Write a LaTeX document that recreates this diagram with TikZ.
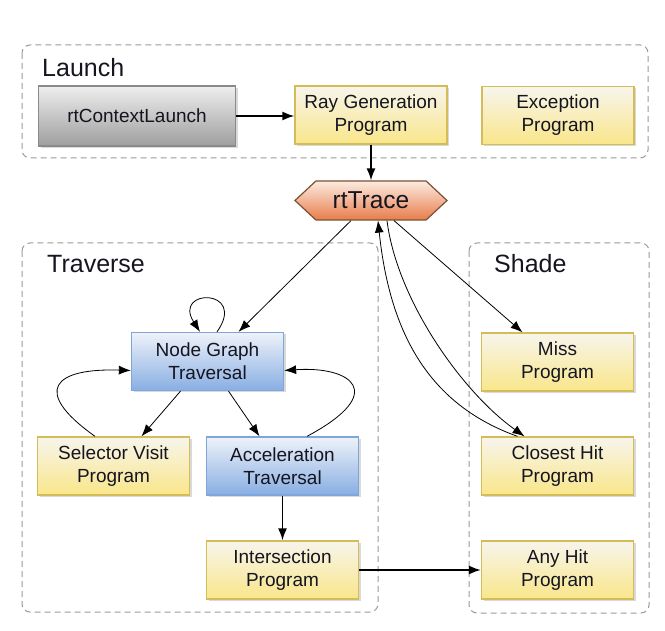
\documentclass[tikz,border=0pt]{standalone}
\usepackage{fontspec}
\setmainfont{Liberation Sans}
\usetikzlibrary{shapes.symbols,arrows.meta,shadows,calc}
\definecolor{yelTop}{HTML}{F7F5EC}
\definecolor{yelBot}{HTML}{F9E68A}
\definecolor{yelDraw}{HTML}{D4BC58}
\definecolor{bluTop}{HTML}{EEF2F9}
\definecolor{bluBot}{HTML}{88AEE3}
\definecolor{bluDraw}{HTML}{7EA6DA}
\definecolor{gryTop}{HTML}{EEEEEE}
\definecolor{gryBot}{HTML}{9E9E9E}
\definecolor{gryDraw}{HTML}{8A8A8A}
\definecolor{orTop}{HTML}{FCEBE0}
\definecolor{orBot}{HTML}{E87C4A}
\definecolor{orDraw}{HTML}{7A5036}
\definecolor{contCol}{HTML}{9A9A9A}
\definecolor{txtCol}{HTML}{151520}
\tikzset{
  box/.style={draw, line width=1.3pt, minimum width=152pt, minimum height=58pt,
    inner sep=0pt, align=center, text=txtCol, font=\fontsize{19}{23}\selectfont,
    drop shadow={shadow xshift=2pt,shadow yshift=-2pt,opacity=0.3}},
  ybox/.style={box, draw=yelDraw, top color=yelTop, bottom color=yelBot},
  bbox/.style={box, draw=bluDraw, top color=bluTop, bottom color=bluBot},
  gbox/.style={box, draw=gryDraw, top color=gryTop, bottom color=gryBot},
  hexbox/.style={signal, signal to=west and east, signal pointer angle=86,
    draw=orDraw, line width=1.2pt, top color=orTop, bottom color=orBot,
    minimum width=152pt, minimum height=39pt, inner sep=0pt, text=txtCol,
    font=\fontsize{24.5}{28}\selectfont},
  arr/.style={-{Latex[length=12pt,width=9pt]}, line width=0.8pt},
  tarr/.style={-{Latex[length=12pt,width=9pt]}, line width=1.6pt},
  grp/.style={draw=contCol, dash pattern=on 6pt off 4pt, line width=1pt, rounded corners=8pt},
  lbl/.style={font=\fontsize{25}{30}\selectfont, anchor=base west, inner sep=0pt, text=txtCol}
}
\begin{document}
\begin{tikzpicture}[x=1pt,y=-1pt]
\useasboundingbox (0,0) rectangle (665,631);
% containers
\draw[grp] (22,45) rectangle (648,158);
\draw[grp] (22,243) rectangle (378,612);
\draw[grp] (469,243) rectangle (649,613);
\node[lbl] (lLaunch) at (42,77) {Launch};
\node[lbl] (lTrav) at (47,273) {Traverse};
\node[lbl] (lShade) at (494,273) {Shade};
% nodes
\node[gbox, minimum width=197pt, minimum height=60pt] (rtcl) at (137,116) {rtContextLaunch};
\node[ybox] (raygen) at (371,115) {Ray Generation\\Program};
\node[ybox] (exc) at (558,115.5) {Exception\\Program};
\node[hexbox] (rt) at (371,200.5) {rtTrace};
\node[bbox] (ngt) at (207.5,361.5) {Node Graph\\Traversal};
\node[ybox] (sel) at (113.5,466) {Selector Visit\\Program};
\node[bbox] (acc) at (282.5,466) {Acceleration\\Traversal};
\node[ybox] (isec) at (282.5,570) {Intersection\\Program};
\node[ybox] (miss) at (557.5,362) {Miss\\Program};
\node[ybox] (chit) at (557.5,466) {Closest Hit\\Program};
\node[ybox] (ahit) at (557.5,570) {Any Hit\\Program};
% edges
\draw[tarr] (rtcl.east) -- (rtcl.east -| raygen.west);
\draw[tarr] (raygen.south) -- (rt.north);
\draw[arr] ($(rt.south)+(-20,0)$) -- ($(ngt.north)+(31,0)$);
\draw[arr] ($(rt.south)+(23,0)$) -- ($(miss.north)+(-35,0)$);
\draw[arr] ($(chit.north)+(-40,0)$) .. controls (430,405) and (390,335) .. ($(rt.south)+(7,0)$);
\draw[arr] ($(rt.south)+(16,0)$) .. controls (397,300) and (462,392) .. ($(chit.north)+(-33,0)$);
\draw[arr] ($(ngt.north)+(9.5,0)$) .. controls (248,288) and (172,288) .. ($(ngt.north)+(-7.5,0)$);
\draw[arr] ($(sel.north)+(-18.5,0)$) .. controls (30,390) and (55,368) .. ($(ngt.west)+(0,9)$);
\draw[arr] ($(acc.north)+(24.5,0)$) .. controls (390,392) and (350,366) .. ($(ngt.east)+(0,9)$);
\draw[arr] ($(ngt.south)+(-27,0)$) -- ($(sel.north)+(28,0)$);
\draw[arr] ($(ngt.south)+(21,0)$) -- ($(acc.north)+(-23,0)$);
\draw[tarr] (acc.south) -- (isec.north);
\draw[tarr] (isec.east) -- (ahit.west);
\end{tikzpicture}
\end{document}
